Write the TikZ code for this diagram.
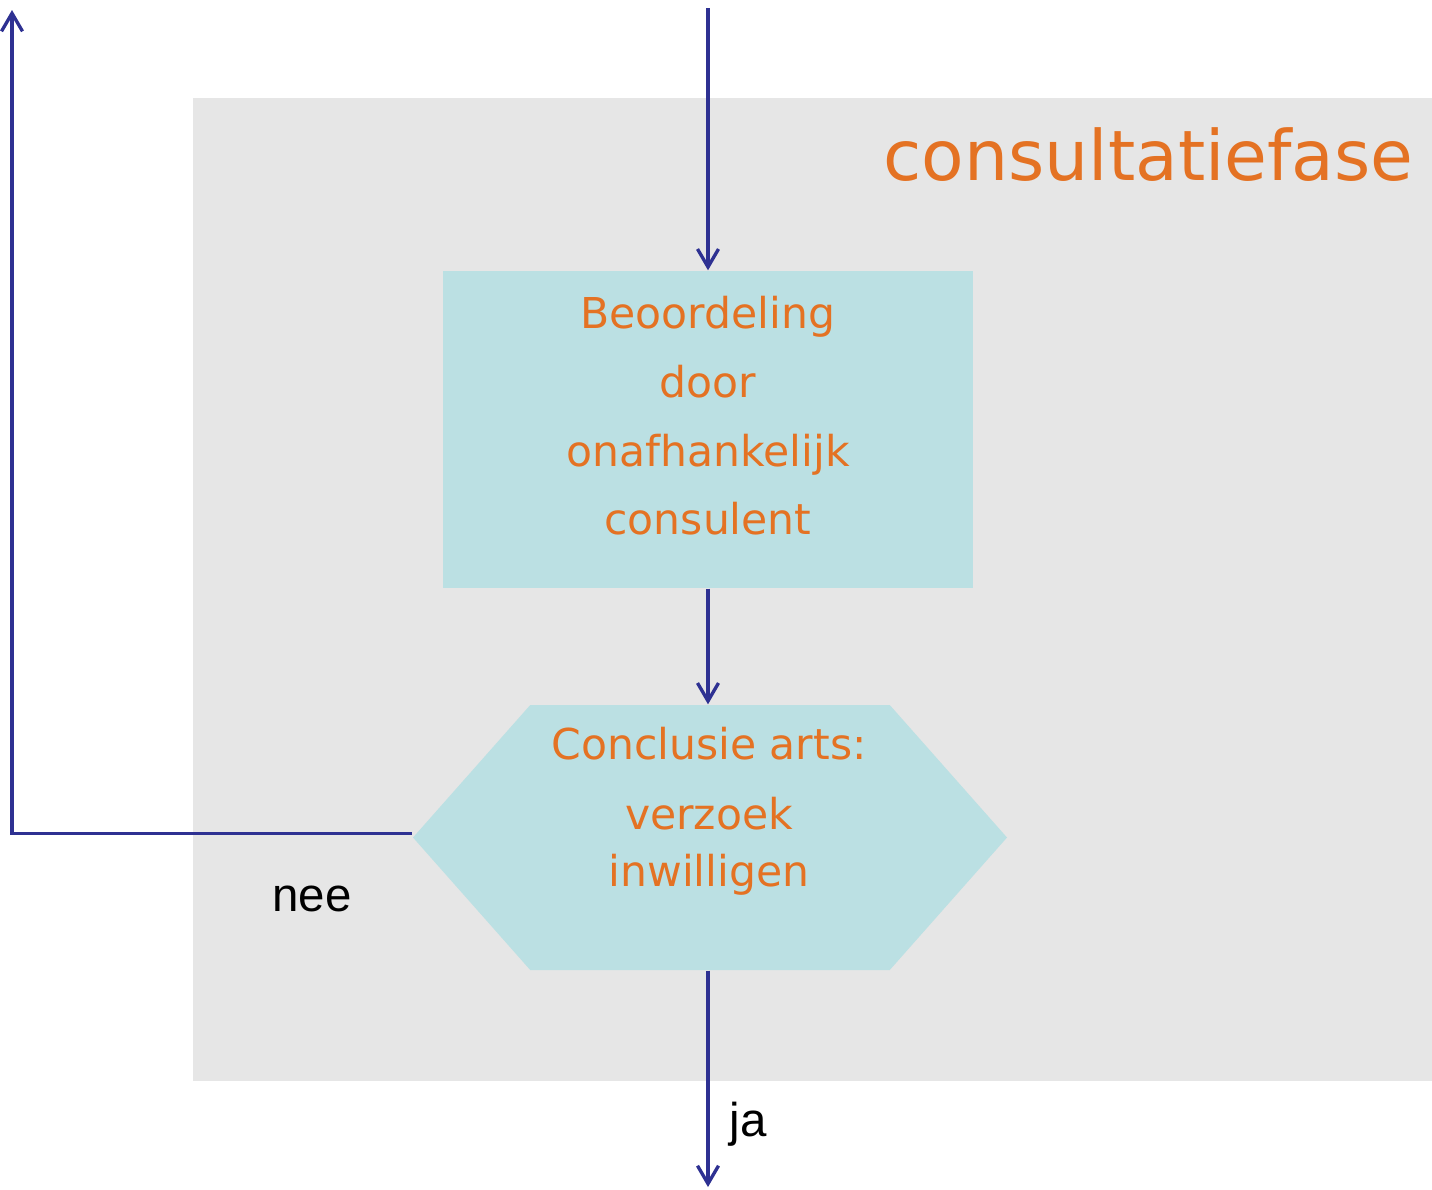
\documentclass[tikz,border=0pt]{standalone}
\usepackage{fontspec}
\setmainfont{DejaVu Sans}
\newfontfamily\arialfont{Liberation Sans}
\usepackage{tikz}
\usetikzlibrary{arrows.meta,positioning,shapes.symbols}
\definecolor{cfor}{RGB}{228,114,35}
\definecolor{cfbox}{RGB}{187,224,227}
\definecolor{cfbg}{RGB}{230,230,230}
\definecolor{cfln}{RGB}{46,49,146}

\begin{document}
\begin{tikzpicture}[
  box/.style={fill=cfbox, align=center, text=cfor, inner sep=0pt,
              font=\fontsize{12.1}{19.6}\selectfont},
  hexa/.style={shape=signal, signal to=west and east, signal pointer angle=97,
               fill=cfbox, inner sep=0pt, minimum width=59.4mm, minimum height=26.5mm},
  flow/.style={-{Straight Barb[length=1.8mm,width=2.1mm]}, draw=cfln, line width=0.95pt},
  answer/.style={font=\arialfont\fontsize{13.5}{16}\selectfont}
]
\useasboundingbox (0,0) rectangle (14.32,-11.89);
\fill[cfbg] (1.93,-0.98) rectangle (14.32,-10.81);
\node[anchor=base east, text=cfor, font=\fontsize{19.8}{23}\selectfont]
  (phase) at (14.26,-1.805) {consultatiefase};

\node[box, minimum width=53mm, minimum height=31.7mm, text depth=2.8mm]
  (review) at (7.08,-4.295) {Beoordeling\\door\\onafhankelijk\\consulent};
\node[hexa] (decision) at (7.10,-8.375) {};
\node[align=center, text=cfor, font=\fontsize{12.1}{16.2}\selectfont]
  (decisiontext) at (7.09,-8.11) {Conclusie arts:\\[1.3mm]verzoek\\inwilligen};

\coordinate (entry) at (7.08,-0.08);
\coordinate (exit) at (7.08,-11.87);
\coordinate (back) at (0.12,-0.10);

\draw[flow] (entry) -- (review.north);
\draw[flow] (review.south) -- (review.south |- decision.north);
\draw[flow] (decision.south -| exit) -- (exit);
\draw[flow] ([yshift=0.4mm]decision.west) -| (back);

\node[answer] (no) at (3.12,-8.99) {nee};
\node[answer] (yes) at (7.48,-11.24) {ja};
\end{tikzpicture}
\end{document}
